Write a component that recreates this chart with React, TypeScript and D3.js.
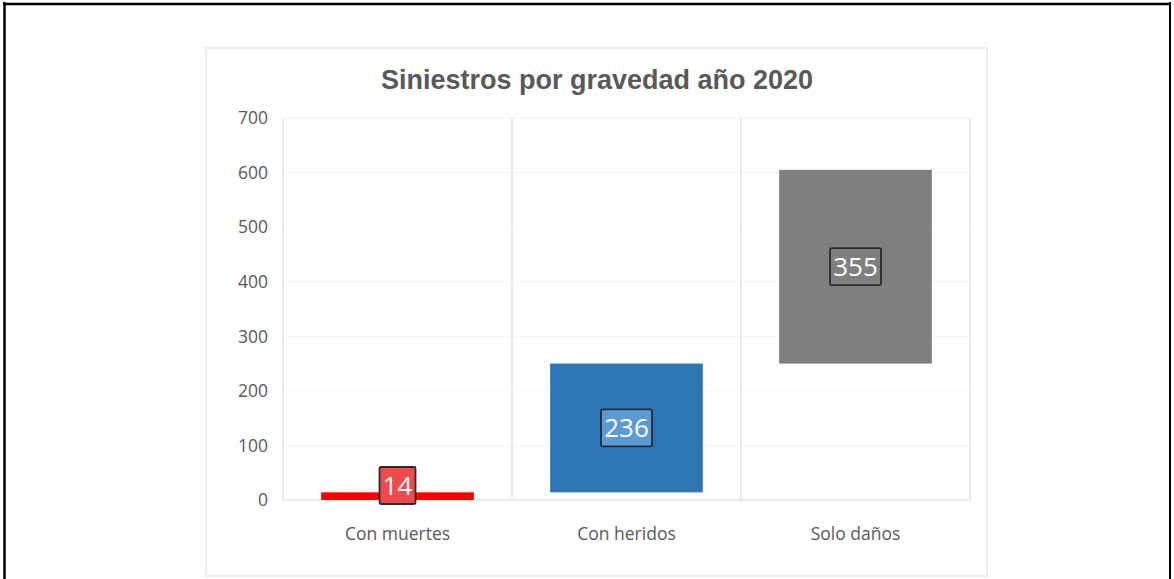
import React from "react";
import * as d3 from "d3";

const categories = ["Con muertes", "Con heridos", "Solo daños"];
const values = [14, 236, 355];
const barColors = ["#ff0000", "#2e75b6", "#7f7f7f"];
const labelFills = ["#f24a4a", "#5b9bd5", "#808080"];
const yTicks = [0, 100, 200, 300, 400, 500, 600, 700];
const title = "Siniestros por gravedad año 2020";

export default function App() {
  const W = 1174;
  const H = 579;
  const plotL = 283;
  const plotR = 970;
  const plotT = 118;
  const plotB = 500;

  const x = d3.scaleBand<string>().domain(categories).range([plotL, plotR]).paddingInner(0).paddingOuter(0);
  const y = d3.scaleLinear().domain([0, 700]).range([plotB, plotT]);

  let acc = 0;
  const bars = values.map((v, i) => {
    const start = acc;
    acc += v;
    return { cat: categories[i], v, start, end: acc, i };
  });

  const barW = x.bandwidth() / 1.5;
  const font = "'Open Sans', 'DejaVu Sans', sans-serif";

  return (
    <div style={{ position: "absolute", left: 0, top: 0 }}>
      <svg width={W} height={H} style={{ display: "block", background: "#fff" }}>
        {/* outer black frame */}
        <line x1={4.5} y1={2} x2={4.5} y2={H} stroke="#000" strokeWidth={2.5} />
        <line x1={3} y1={4} x2={1171} y2={4} stroke="#000" strokeWidth={2.5} />
        <line x1={1170} y1={2} x2={1170} y2={H} stroke="#000" strokeWidth={2} />
        {/* chart frame */}
        <rect x={206} y={48} width={781} height={528} fill="#fff" stroke="#e3e3e3" strokeWidth={1.2} />
        <text x={597} y={89} textAnchor="middle" fontFamily="'Liberation Sans', Arial, sans-serif" fontWeight="bold" fontSize={27} fill="#595959">
          {title}
        </text>
        {/* faint horizontal gridlines */}
        {yTicks.slice(1).map((t) => (
          <line key={"h" + t} x1={plotL} x2={plotR} y1={y(t)} y2={y(t)} stroke="#f4f4f4" strokeWidth={1} />
        ))}
        {/* vertical gridlines */}
        {[...categories.map((c) => x(c)!), plotR].map((gx, i) => (
          <line key={"v" + i} x1={gx} x2={gx} y1={plotT} y2={plotB} stroke="#d9d9d9" strokeWidth={1.2} />
        ))}
        <line x1={plotL} x2={plotR} y1={plotB} y2={plotB} stroke="#d9d9d9" strokeWidth={1.2} />
        {/* y tick labels */}
        {yTicks.map((t) => (
          <text key={"t" + t} x={268} y={y(t)} dy="0.36em" textAnchor="end" fontFamily={font} fontSize={17.5} fill="#595959">
            {t}
          </text>
        ))}
        {/* category labels */}
        {categories.map((c) => (
          <text key={"c" + c} x={x(c)! + x.bandwidth() / 2} y={534} dy="0.36em" textAnchor="middle" fontFamily={font} fontSize={17.5} fill="#595959">
            {c}
          </text>
        ))}
        {/* bars */}
        {bars.map((b) => {
          const cx = x(b.cat)! + x.bandwidth() / 2;
          return (
            <rect key={"b" + b.i} x={cx - barW / 2} y={y(b.end)} width={barW} height={y(b.start) - y(b.end)} fill={barColors[b.i]} />
          );
        })}
        {/* labels */}
        {bars.map((b) => {
          const cx = x(b.cat)! + x.bandwidth() / 2;
          const txt = String(b.v);
          const bw = txt.length * 15 + 6;
          const bh = 37;
          let cy = y((b.start + b.end) / 2);
          if (cy + bh / 2 > plotB + 4) cy = plotB + 4 - bh / 2;
          return (
            <g key={"l" + b.i}>
              <rect x={cx - bw / 2} y={cy - bh / 2} width={bw} height={bh} fill={labelFills[b.i]} stroke="#2b2b2b" strokeWidth={1.8} rx={1.5} />
              <text x={cx} y={cy} dy="0.36em" textAnchor="middle" fontFamily={font} fontSize={26} fill="#fff">
                {txt}
              </text>
            </g>
          );
        })}
      </svg>
    </div>
  );
}
